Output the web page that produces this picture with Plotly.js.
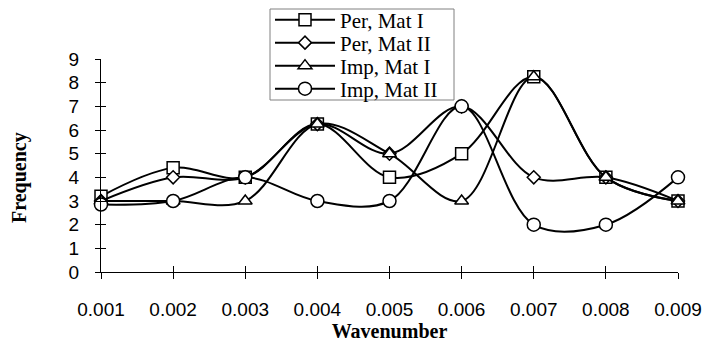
<!DOCTYPE html>
<html>
<head>
<meta charset="utf-8">
<script src="https://cdn.plot.ly/plotly-3.0.1.min.js"></script>
<style>html,body{margin:0;padding:0;background:#fff;}#chart{width:705px;height:342px;}</style>
</head>
<body>
<div id="chart"></div>
<script>
const wavenumber = [0.001, 0.002, 0.003, 0.004, 0.005, 0.006, 0.007, 0.008, 0.009];
const tickLabels = ["0.001", "0.002", "0.003", "0.004", "0.005", "0.006", "0.007", "0.008", "0.009"];
const perMatI  = [3.2, 4.4, 4, 6.25, 4, 5, 8.25, 4, 3];
const perMatII = [3, 4, 4, 6.25, 5, 7, 4, 4, 3];
const impMatI  = [3, 3, 3, 6.25, 5, 3, 8.25, 4, 3];
const impMatII = [2.85, 3, 4, 3, 3, 7, 2, 2, 4];
const seriesNames = ["Per, Mat I", "Per, Mat II", "Imp, Mat I", "Imp, Mat II"];
const yTicks = [0, 1, 2, 3, 4, 5, 6, 7, 8, 9];

const symbols = ["square", "diamond", "triangle-up", "circle"];
const sizes = [12, 10, 12, 13];
const allY = [perMatI, perMatII, impMatI, impMatII];
const legendIds = ["legend", "legend2", "legend3", "legend4"];

const traces = allY.map((ys, i) => ({
  x: wavenumber, y: ys, name: seriesNames[i], type: "scatter", mode: "lines+markers",
  legend: legendIds[i],
  line: {color: "#000", width: 2, shape: "spline", smoothing: 1},
  marker: {symbol: symbols[i], size: sizes[i], color: "#fff", line: {color: "#000", width: 1.5}},
  cliponaxis: false
}));
// overlay axes for inward tick halves (cross ticks)
traces.push({x: [wavenumber[0]], y: [yTicks[0]], xaxis: "x2", yaxis: "y2", mode: "markers",
  marker: {opacity: 0}, showlegend: false, hoverinfo: "skip"});

// plot area in pixels: x 101..678, y 59..272
const plotL = 101, plotW = 577, plotB = 272, plotH = 213;
const px = v => (v - plotL) / plotW;
const py = v => (plotB - v) / plotH;

const serif = "Liberation Serif, Times New Roman, serif";
const sans = "Liberation Sans, Arial, sans-serif";

const layout = {
  width: 705, height: 342,
  margin: {l: 101, r: 27, t: 59, b: 70, autoexpand: false},
  paper_bgcolor: "#fff", plot_bgcolor: "rgba(0,0,0,0)",
  showlegend: true,
  xaxis: {
    range: [0.001, 0.009], tickvals: wavenumber, ticktext: tickLabels,
    showgrid: false, zeroline: false, showline: true, linecolor: "#000", linewidth: 1,
    ticks: "outside", ticklen: 6, tickcolor: "#000", tickwidth: 1,
    ticklabelstandoff: 14, automargin: false,
    tickfont: {family: sans, size: 19, color: "#000"},
    title: {text: "Wavenumber", standoff: 0,
      font: {family: serif, size: 20, color: "#000", weight: "bold"}}
  },
  yaxis: {
    range: [0, 9], tickvals: yTicks,
    showgrid: false, zeroline: false, showline: true, linecolor: "#000", linewidth: 1,
    ticks: "outside", ticklen: 5, tickcolor: "#000", tickwidth: 1,
    ticklabelstandoff: 12, automargin: false,
    tickfont: {family: sans, size: 19, color: "#000"}
  },
  xaxis2: {overlaying: "x", range: [0.001, 0.009], tickvals: wavenumber, showticklabels: false,
    ticks: "inside", ticklen: 6, tickcolor: "#000", showgrid: false, zeroline: false, showline: false, side: "bottom"},
  yaxis2: {overlaying: "y", range: [0, 9], tickvals: yTicks, showticklabels: false,
    ticks: "inside", ticklen: 5, tickcolor: "#000", showgrid: false, zeroline: false, showline: false, side: "left"},
  annotations: [{
    text: "<b>Frequency</b>", textangle: -90, showarrow: false,
    xref: "paper", yref: "paper", x: px(19), y: py(178), xanchor: "center", yanchor: "middle",
    font: {family: serif, size: 20, color: "#000"}
  }],
  shapes: [{
    type: "rect", xref: "paper", yref: "paper", layer: "above",
    x0: px(270), x1: px(454), y0: py(100), y1: py(9),
    line: {color: "#808080", width: 1}, fillcolor: "#fff"
  }]
};

const rowCenters = [20, 43, 66, 89];
legendIds.forEach((id, i) => {
  layout[id] = {
    x: px(270), y: py(rowCenters[i]), xanchor: "left", yanchor: "middle",
    borderwidth: 0, bgcolor: "rgba(0,0,0,0)",
    font: {family: serif, size: 21, color: "#000"},
    itemwidth: 60
  };
});

Plotly.newPlot("chart", traces, layout, {displayModeBar: false, staticPlot: true});
</script>
</body>
</html>
